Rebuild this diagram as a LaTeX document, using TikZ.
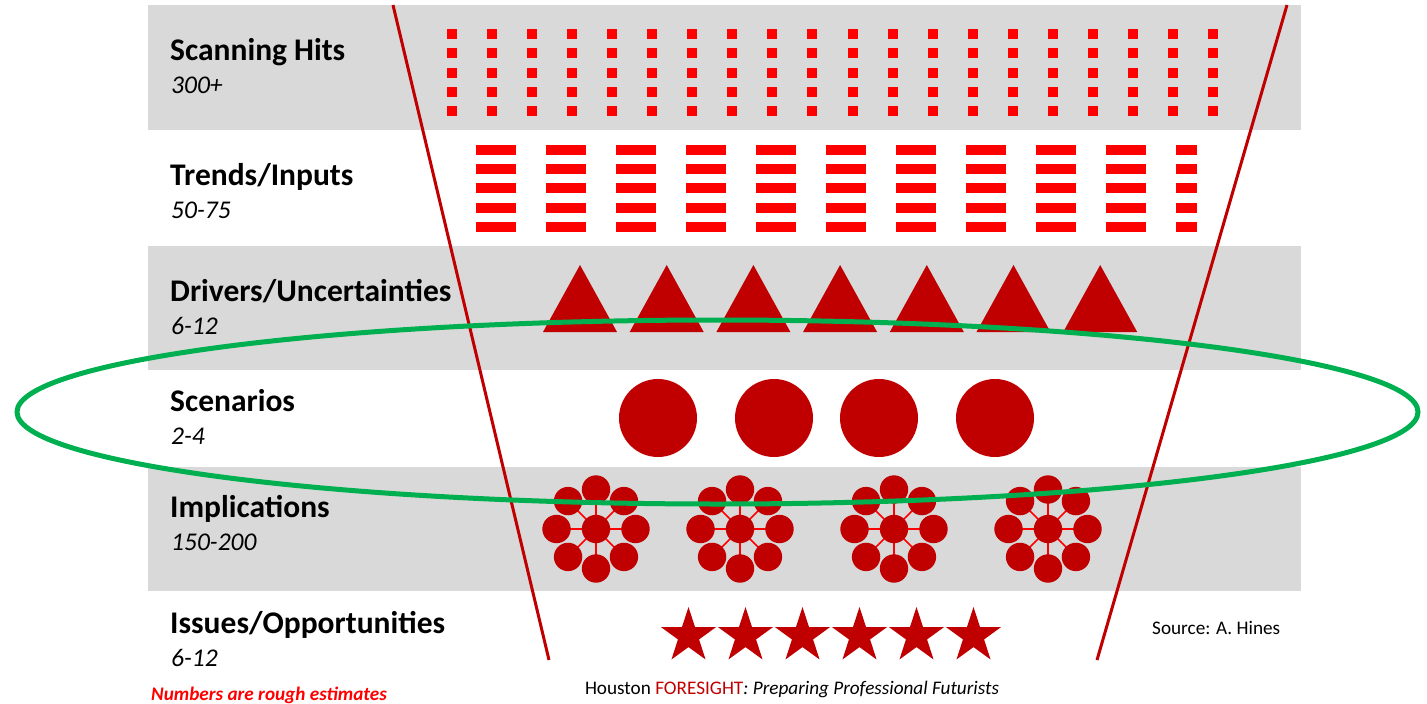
\documentclass[tikz,border=0pt]{standalone}
\usepackage{fontspec}
\setmainfont{Carlito}
\definecolor{bandgray}{HTML}{D9D9D9}
\definecolor{dred}{HTML}{C00000}
\definecolor{bred}{HTML}{FF0000}
\definecolor{ovalgreen}{HTML}{00B050}
\begin{document}
\begin{tikzpicture}[x=1pt,y=-1pt,
  band/.style={fill=bandgray,draw=none},
  stagetitle/.style={anchor=base west,inner sep=0pt,font=\fontsize{31.5}{33}\selectfont\bfseries},
  stagecount/.style={anchor=base west,inner sep=0pt,font=\fontsize{25.5}{28}\selectfont\itshape},
  smalltext/.style={inner sep=0pt,font=\fontsize{19.2}{21}\selectfont},
  funnel/.style={draw=dred,line width=3pt},
  oval/.style={draw=ovalgreen,line width=5pt},
  link/.style={draw=bred,line width=1.5pt}]
\useasboundingbox (0,0) rectangle (1427,704);
% bands
\fill[band] (148,5) rectangle (1301,130);
\fill[band] (148,246) rectangle (1301,370);
\fill[band] (148,467) rectangle (1301,591);
% scanning hits squares
\foreach \i in {0,...,19}{
  \foreach \j in {0,...,4}{
    \fill[bred] ({452+40.05*\i-5},{34+19.25*\j-5}) rectangle ++(10,10);
  }
}
% trends bars
\foreach \i in {0,...,9}{
  \foreach \j in {0,...,4}{
    \fill[bred] ({476+70*\i},{150+19.2*\j-5}) rectangle ++(40,10);
  }
}
\foreach \j in {0,...,4}{
  \fill[bred] (1176,{150+19.2*\j-5}) rectangle ++(21,10);
}
% drivers triangles
\foreach \i in {0,...,6}{
  \fill[dred] ({580+86.7*\i},265) -- ({580+86.7*\i-37},332) -- ({580+86.7*\i+37},332) -- cycle;
}
% scenario circles
\foreach \cx in {658,774,879,995}{
  \fill[dred] (\cx,418) circle[radius=39pt];
}
% implications clusters
\foreach \cx in {596,740,894,1048}{
  \foreach \a in {0,45,...,315}{
    \draw[link] (\cx,529) -- ++(\a:39.5pt);
  }
  \fill[dred] (\cx,529) circle[radius=14.2pt];
  \foreach \a in {0,45,...,315}{
    \fill[dred] (\cx,529) ++(\a:39.5pt) circle[radius=14.2pt];
  }
}
% issues stars
\foreach \k in {0,...,5}{
  \fill[dred,shift={({688.5+57*\k},636)}] (90:29pt) -- (126:11.1pt) -- (162:29pt) -- (198:11.1pt) -- (234:29pt) -- (270:11.1pt) -- (306:29pt) -- (342:11.1pt) -- (18:29pt) -- (54:11.1pt) -- cycle;
}
% funnel
\coordinate (fl1) at (393,5);
\coordinate (fl2) at (549,660);
\coordinate (fr1) at (1287,5);
\coordinate (fr2) at (1097,660);
\draw[funnel] (fl1) -- (fl2);
\draw[funnel] (fr1) -- (fr2);
% labels
\node[stagetitle] (t1) at (170,60) {Scanning Hits};
\node[stagecount] (c1) at (171,93) {300+};
\node[stagetitle] (t2) at (170,185) {Trends/Inputs};
\node[stagecount] (c2) at (171,218) {50-75};
\node[stagetitle] (t3) at (170,301) {Drivers/Uncertainties};
\node[stagecount] (c3) at (171,334) {6-12};
\node[stagetitle] (t4) at (170,411) {Scenarios};
\node[stagecount] (c4) at (171,444) {2-4};
\node[stagetitle] (t5) at (170,517) {Implications};
\node[stagecount] (c5) at (171,550) {150-200};
\node[stagetitle] (t6) at (170,633) {Issues/Opportunities};
\node[stagecount] (c6) at (171,666) {6-12};
\node[smalltext,anchor=base west,text=bred,font=\fontsize{19.2}{21}\selectfont\bfseries\itshape] (note) at (151,700) {Numbers are rough estimates};
\node[smalltext,anchor=base west] (src) at (1152,634) {Source: A. Hines};
\node[smalltext,anchor=base] (foot) at (792,694) {Houston \textcolor{dred}{FORESIGHT}\textit{: Preparing Professional Futurists}};
% green oval
\draw[oval] (717.5,412) ellipse[x radius=700.5pt,y radius=92pt];
\end{tikzpicture}
\end{document}
